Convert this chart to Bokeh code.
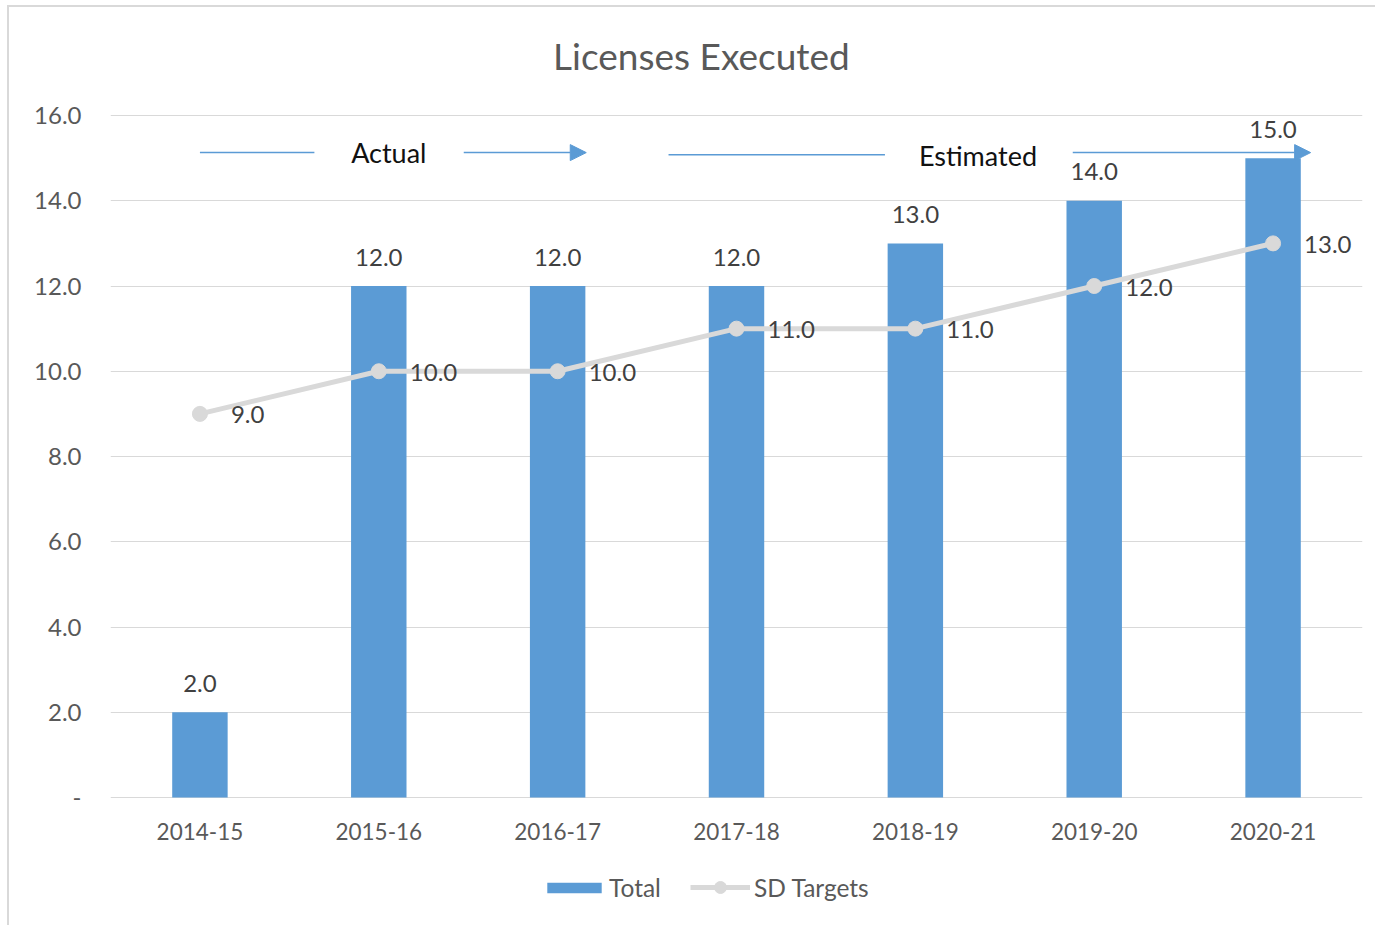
from bokeh.plotting import figure
from bokeh.models import (Range1d, FixedTicker, Legend, LegendItem, Arrow, NormalHead,
                          ColumnDataSource, Label)
from bokeh.core.properties import value
from bokeh.embed import file_html
from bokeh.resources import INLINE

# ---- data ----
categories = ["2014-15", "2015-16", "2016-17", "2017-18", "2018-19", "2019-20", "2020-21"]
total = [2.0, 12.0, 12.0, 12.0, 13.0, 14.0, 15.0]
sd_targets = [9.0, 10.0, 10.0, 11.0, 11.0, 12.0, 13.0]
y_ticks = [0, 2, 4, 6, 8, 10, 12, 14, 16]
y_tick_labels = ["-", "2.0", "4.0", "6.0", "8.0", "10.0", "12.0", "14.0", "16.0"]
title_text = "Licenses Executed"

FONT = "Lato"
BLUE = "#5b9bd5"
GRAY = "#d9d9d9"

xs = list(range(len(categories)))
src = ColumnDataSource(dict(
    x=xs, total=total, sd=sd_targets, zero=[0] * len(xs), cat=categories,
    total_lbl=[f"{v:.1f}" for v in total],
    sd_lbl=[f"{v:.1f}" for v in sd_targets],
))

p = figure(width=1368, height=920, output_backend="svg", toolbar_location=None,
           x_range=Range1d(-0.5, 6.5), y_range=Range1d(-2.815, 18.534),
           min_border_left=101, min_border_right=15, min_border_top=0, min_border_bottom=10)
p.styles = {"border-left": "2px solid #d9d9d9", "border-top": "2px solid #d9d9d9",
            "margin-left": "7px", "margin-top": "5px"}
p.outline_line_color = None
p.background_fill_color = "white"
p.border_fill_color = "white"

# title (drawn inside the extended frame)
p.add_layout(Label(x=2.804, y=17.41, text=title_text, text_align="center", text_baseline="middle",
                   text_font=FONT, text_font_size="37px", text_color="#595959"))

# axes
p.xaxis.visible = False
p.yaxis.ticker = FixedTicker(ticks=y_ticks)
p.yaxis.major_label_overrides = {t_: l for t_, l in zip(y_ticks, y_tick_labels)}
p.yaxis.major_tick_line_color = None
p.yaxis.minor_tick_line_color = None
p.yaxis.major_label_text_font = FONT
p.yaxis.major_label_text_font_size = "24px"
p.yaxis.major_label_text_color = "#595959"
p.yaxis.axis_line_color = None
p.yaxis.major_label_standoff = 23
p.xgrid.grid_line_color = None
p.ygrid.grid_line_color = GRAY
p.ygrid.ticker = FixedTicker(ticks=y_ticks)

# category labels
p.text(x="x", y="zero", text="cat", source=src, text_align="center",
       text_baseline="middle", y_offset=34, text_font=value(FONT),
       text_font_size="22.5px", text_color="#595959")

# bars
bars = p.vbar(x="x", top="total", width=0.31, bottom=0, source=src,
              fill_color=BLUE, line_color=None)
# line
ln = p.line(x="x", y="sd", source=src, line_color=GRAY, line_width=5)
pts = p.scatter(x="x", y="sd", source=src, size=15, fill_color=GRAY, line_color=GRAY)

# data labels
p.text(x="x", y="total", text="total_lbl", source=src, text_align="center",
       text_baseline="middle", y_offset=-29, text_font=value(FONT),
       text_font_size="24px", text_color="#404040")
p.text(x="x", y="sd", text="sd_lbl", source=src, text_align="left",
       text_baseline="middle", x_offset=31, y_offset=1, text_font=value(FONT),
       text_font_size="24px", text_color="#404040")

# Actual / Estimated annotations
ann_y = 15.13
p.add_layout(Arrow(end=None, x_start=0.0, y_start=ann_y, x_end=0.64, y_end=ann_y,
                   line_color=BLUE, line_width=1.5))
p.add_layout(Arrow(end=NormalHead(size=16, fill_color=BLUE, line_color=BLUE),
                   x_start=1.475, y_start=ann_y, x_end=2.16, y_end=ann_y,
                   line_color=BLUE, line_width=1.5))
p.add_layout(Arrow(end=None, x_start=2.62, y_start=15.08, x_end=3.83, y_end=15.08,
                   line_color=BLUE, line_width=1.5))
p.add_layout(Arrow(end=NormalHead(size=16, fill_color=BLUE, line_color=BLUE),
                   x_start=4.88, y_start=ann_y, x_end=6.21, y_end=ann_y,
                   line_color=BLUE, line_width=1.5))
p.add_layout(Label(x=1.056, y=15.13, text="Actual", text_align="center", text_baseline="middle",
                   text_font=FONT, text_font_size="27px", text_color="#111111"))
p.add_layout(Label(x=4.35, y=15.06, text="Estimated", text_align="center", text_baseline="middle",
                   text_font=FONT, text_font_size="27px", text_color="#111111"))

# legends (two, so each glyph gets its own size)
common = dict(orientation="horizontal", label_text_font=FONT, label_text_font_size="24.5px",
              label_text_color="#595959", border_line_color=None, background_fill_alpha=0,
              margin=0, padding=0)
leg1 = Legend(items=[LegendItem(label="Total", renderers=[bars])],
              location=(430, 15), glyph_width=68, glyph_height=13, label_standoff=1, **common)
leg2 = Legend(items=[LegendItem(label="SD Targets", renderers=[ln, pts])],
              location=(580, 15), glyph_width=60, glyph_height=30, label_standoff=4, **common)
p.add_layout(leg1, "center")
p.add_layout(leg2, "center")

open("out.html", "w").write(file_html(p, INLINE))
